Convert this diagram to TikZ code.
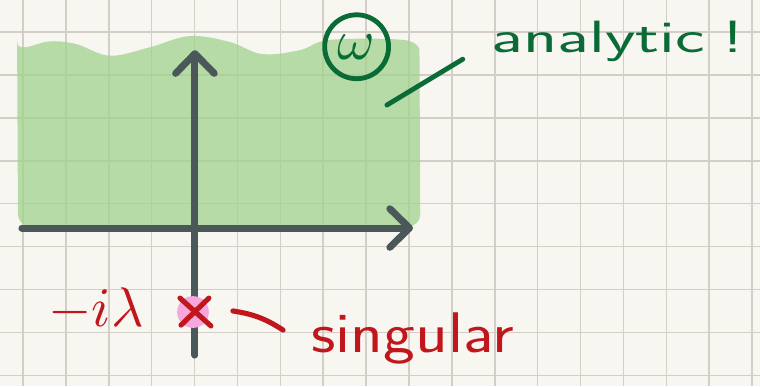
\documentclass[tikz,border=0pt]{standalone}
\usetikzlibrary{arrows.meta}
\definecolor{paper}{HTML}{F8F6F1}
\definecolor{gridline}{HTML}{D3CEC8}
\definecolor{areagreen}{HTML}{A0D38D}
\definecolor{axisgray}{HTML}{4B585A}
\definecolor{inkgreen}{HTML}{0B6B36}
\definecolor{inkred}{HTML}{C1161C}
\definecolor{pinkmark}{HTML}{F6A8DE}
\begin{document}
\begin{tikzpicture}[
    axis/.style={draw=axisgray, line width=4.6pt, line cap=round,
      -{Straight Barb[length=4.6mm, width=9mm, round]}},
    greenink/.style={draw=inkgreen, line width=3.2pt, line cap=round},
    redink/.style={draw=inkred, line width=3.4pt, line cap=round}
  ]
  \useasboundingbox (0,0) rectangle (17.72,9.0);
  % paper and grid
  \fill[paper] (0,0) rectangle (17.72,9.0);
  \foreach \x in {0,...,17}
    \draw[gridline, line width=1pt] ({0.536+\x},0) -- ({0.536+\x},9.0);
  \foreach \y in {0,...,8}
    \draw[gridline, line width=1pt] (0,{0.25+\y}) -- (17.72,{0.25+\y});
  % region where the function is analytic
  \fill[areagreen, fill opacity=0.75]
    plot[smooth, tension=0.6] coordinates {(0.40,7.75) (1.05,8.02) (1.75,7.98)
      (2.56,7.70) (3.50,7.90) (4.43,8.16) (5.36,8.02) (6.11,7.74) (6.99,7.83)
      (7.69,8.07) (9.40,8.07) (9.78,7.85)}
    [rounded corners=8pt] -- (9.80,3.72) -- (0.42,3.72) -- cycle;
  % axes
  \coordinate (xstart) at (0.51,3.683);
  \coordinate (xend) at (9.63,3.683);
  \coordinate (ystart) at (4.545,0.72);
  \coordinate (yend) at (4.545,7.83);
  \draw[axis] (xstart) -- (xend);
  \draw[axis] (ystart) -- (yend);
  % omega label
  \node[circle, greenink, text=inkgreen, minimum size=1.49cm, inner sep=0]
    (omega) at (8.315,7.91) {\scalebox{3.8}{$\omega$}};
  \node[font=\fontsize{30}{30}\selectfont\sffamily, text=inkgreen, xscale=1.56,
    anchor=base west, inner sep=0] (analytic) at (11.45,7.78) {analytic\kern.25em!};
  \coordinate (regiontip) at (9.02,6.55);
  \coordinate (labeltip) at (10.79,7.62);
  \draw[greenink] (regiontip) -- (labeltip);
  % the pole
  \fill[pinkmark] (4.50,1.725) circle (0.37);
  \draw[redink] (4.196,2.05) -- (4.918,1.40);
  \draw[redink] (4.87,2.05) -- (4.22,1.42);
  \node[text=inkred, anchor=base, inner sep=0]
    (pole) at (2.24,1.38) {\scalebox{3.7}{$-i\lambda$}};
  \node[font=\fontsize{38}{38}\selectfont\sffamily, text=inkred, anchor=base,
    xscale=1.18, inner sep=0] (singular) at (9.62,0.77) {singular};
  \coordinate (dashstart) at (5.43,1.75);
  \coordinate (dashend) at (6.60,1.305);
  \draw[redink] (dashstart) to[bend left=12] (dashend);
\end{tikzpicture}
\end{document}
